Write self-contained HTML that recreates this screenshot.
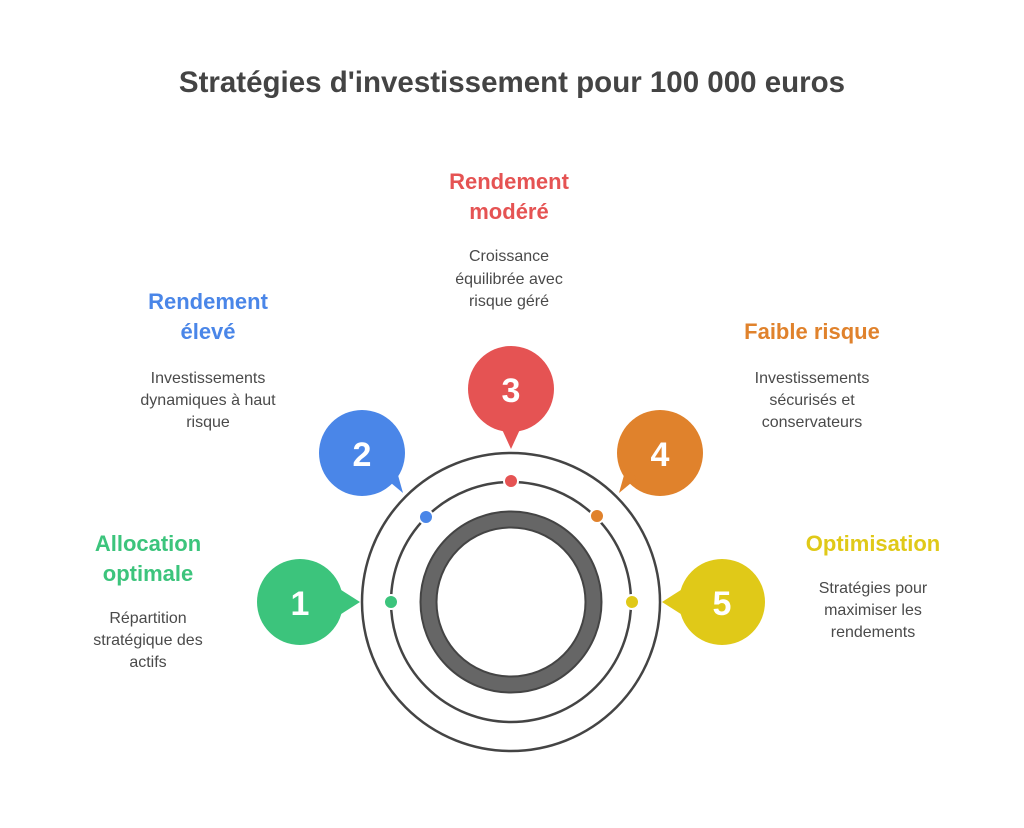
<!DOCTYPE html>
<html><head><meta charset="utf-8"><style>
html,body{margin:0;padding:0;background:#fff;}
svg{display:block;font-family:"Liberation Sans",sans-serif;}
.h{font-weight:bold;font-size:22px;text-anchor:middle;}
.d{font-size:16px;fill:#4a4a4a;text-anchor:middle;}
.n{font-weight:bold;font-size:34px;fill:#fff;text-anchor:middle;}
</style></head><body>
<svg width="1024" height="828" viewBox="0 0 1024 828">
<text x="512" y="92" text-anchor="middle" font-weight="bold" font-size="29.5" fill="#444">Stratégies d'investissement pour 100 000 euros</text>

<circle cx="511" cy="602" r="149" fill="none" stroke="#444" stroke-width="2.5"/>
<circle cx="511" cy="602" r="120" fill="none" stroke="#444" stroke-width="2.5"/>
<circle cx="511" cy="602" r="82.5" fill="none" stroke="#444" stroke-width="18"/>
<circle cx="511" cy="602" r="82.5" fill="none" stroke="#666" stroke-width="14"/>

<g stroke="#fff" stroke-width="2">
<circle cx="391" cy="602" r="7" fill="#3cc47c"/>
<circle cx="426" cy="517" r="7" fill="#4a86e8"/>
<circle cx="511" cy="481" r="7" fill="#e55353"/>
<circle cx="597" cy="516" r="7" fill="#e0822c"/>
<circle cx="632" cy="602" r="7" fill="#e0c918"/>
</g>

<circle cx="300" cy="602" r="43" fill="#3cc47c"/>
<polygon points="338,588 360,602 338,616" fill="#3cc47c"/>
<text class="n" x="300" y="615">1</text>

<circle cx="362" cy="453" r="43" fill="#4a86e8"/>
<polygon points="385,478 403,493 396,468" fill="#4a86e8"/>
<text class="n" x="362" y="466">2</text>

<circle cx="511" cy="389" r="43" fill="#e55353"/>
<polygon points="500,425 511,449 522,425" fill="#e55353"/>
<text class="n" x="511" y="402">3</text>

<circle cx="660" cy="453" r="43" fill="#e0822c"/>
<polygon points="637,478 619,493 626,468" fill="#e0822c"/>
<text class="n" x="660" y="466">4</text>

<circle cx="722" cy="602" r="43" fill="#e0c918"/>
<polygon points="684,588 662,602 684,616" fill="#e0c918"/>
<text class="n" x="722" y="615">5</text>

<text class="h" fill="#e55353" x="509" y="189">Rendement</text>
<text class="h" fill="#e55353" x="509" y="219">modéré</text>
<text class="d" x="509" y="261">Croissance</text>
<text class="d" x="509" y="284">équilibrée avec</text>
<text class="d" x="509" y="306">risque géré</text>

<text class="h" fill="#4a86e8" x="208" y="309">Rendement</text>
<text class="h" fill="#4a86e8" x="208" y="339">élevé</text>
<text class="d" x="208" y="383">Investissements</text>
<text class="d" x="208" y="405">dynamiques à haut</text>
<text class="d" x="208" y="427">risque</text>

<text class="h" fill="#e0822c" x="812" y="339">Faible risque</text>
<text class="d" x="812" y="383">Investissements</text>
<text class="d" x="812" y="405">sécurisés et</text>
<text class="d" x="812" y="427">conservateurs</text>

<text class="h" fill="#3cc47c" x="148" y="551">Allocation</text>
<text class="h" fill="#3cc47c" x="148" y="581">optimale</text>
<text class="d" x="148" y="623">Répartition</text>
<text class="d" x="148" y="645">stratégique des</text>
<text class="d" x="148" y="667">actifs</text>

<text class="h" fill="#e0c918" x="873" y="551">Optimisation</text>
<text class="d" x="873" y="593">Stratégies pour</text>
<text class="d" x="873" y="615">maximiser les</text>
<text class="d" x="873" y="637">rendements</text>
</svg>
</body></html>
